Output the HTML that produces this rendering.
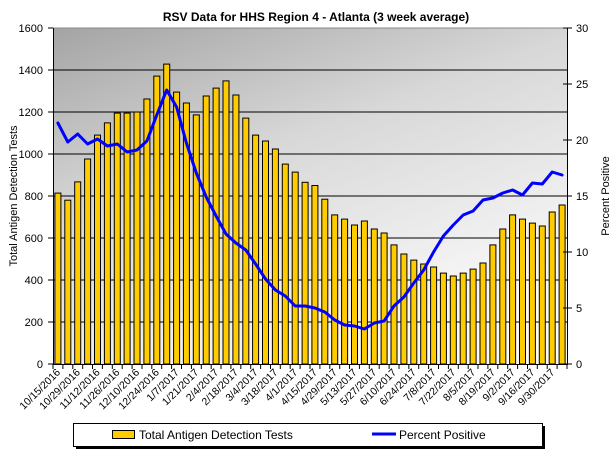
<!DOCTYPE html>
<html><head><meta charset="utf-8"><style>
html,body{margin:0;padding:0;background:#fff;}
svg{display:block;font-family:"Liberation Sans",sans-serif;}
</style></head><body>
<svg width="616" height="462" viewBox="0 0 616 462" xmlns="http://www.w3.org/2000/svg">
<defs>
<linearGradient id="bg" x1="0" y1="0" x2="0.55" y2="1">
<stop offset="0" stop-color="#a4a4a4"/>
<stop offset="0.45" stop-color="#d8d8d8"/>
<stop offset="1" stop-color="#fafafa"/>
</linearGradient>
</defs>
<rect x="53" y="28" width="514" height="336" fill="url(#bg)"/>
<line x1="53" y1="28" x2="567" y2="28" stroke="#888" stroke-width="1"/>
<g stroke="#000" stroke-width="1">
<line x1="53" y1="322" x2="567" y2="322"/><line x1="53" y1="280" x2="567" y2="280"/>
<line x1="53" y1="238" x2="567" y2="238"/><line x1="53" y1="196" x2="567" y2="196"/>
<line x1="53" y1="154" x2="567" y2="154"/><line x1="53" y1="112" x2="567" y2="112"/>
<line x1="53" y1="70" x2="567" y2="70"/>
</g>
<g id="bars" fill="#FFCC00" stroke="#000" stroke-width="1"></g>
<polyline id="line" fill="none" stroke="#0000ff" stroke-width="3" stroke-linejoin="round" stroke-linecap="round"/>
<g stroke="#000" stroke-width="1">
<line x1="53.5" y1="28" x2="53.5" y2="365"/>
<line x1="567.5" y1="28" x2="567.5" y2="365"/>
<line x1="53" y1="364.5" x2="567" y2="364.5"/>
</g>
<g id="ticks" stroke="#000" stroke-width="1"></g>
<g font-size="11" fill="#000" text-anchor="end">
<text x="43" y="368">0</text><text x="43" y="326">200</text><text x="43" y="284">400</text>
<text x="43" y="242">600</text><text x="43" y="200">800</text><text x="43" y="158">1000</text>
<text x="43" y="116">1200</text><text x="43" y="74">1400</text><text x="43" y="32">1600</text>
</g>
<g font-size="11" fill="#000">
<text x="576" y="368">0</text><text x="576" y="312">5</text><text x="576" y="256">10</text>
<text x="576" y="200">15</text><text x="576" y="144">20</text><text x="576" y="88">25</text><text x="576" y="32">30</text>
</g>
<text x="316" y="21" font-size="12" font-weight="bold" text-anchor="middle">RSV Data for HHS Region 4 - Atlanta (3 week average)</text>
<text transform="translate(17,196) rotate(-90)" font-size="11" text-anchor="middle">Total Antigen Detection Tests</text>
<text transform="translate(609,196) rotate(-90)" font-size="11" text-anchor="middle">Percent Positive</text>
<g id="labels" font-size="10.5" text-anchor="end"></g>
<rect x="76" y="426" width="469" height="23" fill="#000"/>
<rect x="73.5" y="423.5" width="469" height="23" fill="#fff" stroke="#000"/>
<rect x="112.5" y="430.5" width="22" height="8" fill="#FFCC00" stroke="#000"/>
<text x="139" y="439" font-size="12">Total Antigen Detection Tests</text>
<line x1="372" y1="434" x2="396" y2="434" stroke="#0000ff" stroke-width="3"/>
<text x="399" y="439" font-size="12">Percent Positive</text>
<script>
var v=[814,780,867,976,1090,1148,1195,1195,1200,1262,1371,1428,1295,1243,1186,1276,1314,1348,1281,1171,1090,1062,1024,952,914,865,850,785,710,690,662,681,643,624,567,524,495,476,462,433,419,433,452,481,567,643,710,690,671,657,724,757];
var ly=[123,142,134,144,139,146,144,152,150,141,115,90,107,143,173,197,216,234,243,250,264,279,290,296,306,306,308,312,320,325,326,329,323,321,306,297,283,270,252,236,225,215,211,200,198,193,190,195,183,184,172,175];
var dates=["10/15/2016","10/29/2016","11/12/2016","11/26/2016","12/10/2016","12/24/2016","1/7/2017","1/21/2017","2/4/2017","2/18/2017","3/4/2017","3/18/2017","4/1/2017","4/15/2017","4/29/2017","5/13/2017","5/27/2017","6/10/2017","6/24/2017","7/8/2017","7/22/2017","8/5/2017","8/19/2017","9/2/2017","9/16/2017","9/30/2017"];
var ns="http://www.w3.org/2000/svg",s=514/52,b=document.getElementById("bars"),t=document.getElementById("ticks"),L=document.getElementById("labels"),pts=[];
for(var i=0;i<52;i++){var cx=53+s*(i+0.5);var h=v[i]*336/1600;var r=document.createElementNS(ns,"rect");
r.setAttribute("x",(cx-3).toFixed(1));r.setAttribute("y",(364-h).toFixed(1));r.setAttribute("width",6);r.setAttribute("height",h.toFixed(1));b.appendChild(r);
pts.push(cx.toFixed(1)+","+ly[i]);}
document.getElementById("line").setAttribute("points",pts.join(" "));
for(var i=0;i<=52;i++){var x=(53+s*i).toFixed(1);var l=document.createElementNS(ns,"line");l.setAttribute("x1",x);l.setAttribute("x2",x);l.setAttribute("y1",364);l.setAttribute("y2",369);t.appendChild(l);}
for(var k=0;k<=8;k++){var y=364-42*k;var l=document.createElementNS(ns,"line");l.setAttribute("x1",48);l.setAttribute("x2",53);l.setAttribute("y1",y);l.setAttribute("y2",y);t.appendChild(l);}
for(var k=0;k<=6;k++){var y=364-56*k;var l=document.createElementNS(ns,"line");l.setAttribute("x1",563);l.setAttribute("x2",572);l.setAttribute("y1",y);l.setAttribute("y2",y);t.appendChild(l);}
for(var j=0;j<26;j++){var cx=53+s*(2*j+0.5)+3;var tx=document.createElementNS(ns,"text");tx.setAttribute("transform","translate("+cx.toFixed(1)+",373) rotate(-45)");tx.textContent=dates[j];L.appendChild(tx);}
</script>
</svg>
</body></html>
